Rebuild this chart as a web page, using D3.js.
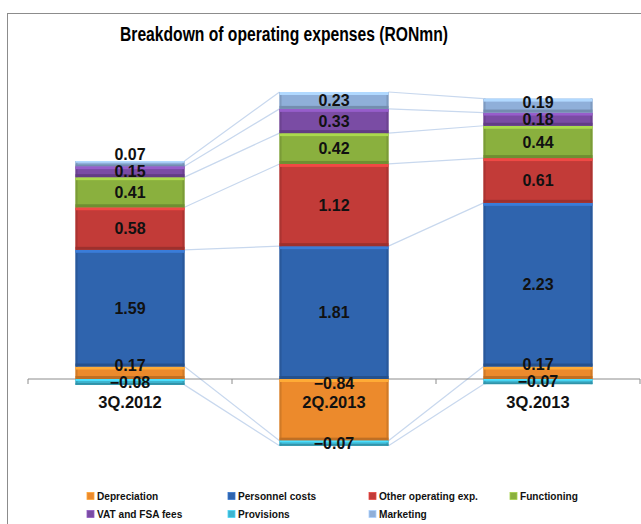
<!DOCTYPE html>
<html>
<head>
  <meta charset="utf-8">
  <title>Breakdown of operating expenses</title>
  <script src="https://d3js.org/d3.v7.min.js"></script>
  <style>
    body { margin: 0; background: #fff; }
    svg { display: block; }
  </style>
</head>
<body>
  <script>
  // data
  var categories = ["3Q.2012", "2Q.2013", "3Q.2013"];
  var seriesNames = ["Depreciation", "Personnel costs", "Other operating exp.", "Functioning",
                     "VAT and FSA fees", "Provisions", "Marketing"];
  var depreciation = [0.17, -0.84, 0.17];
  var personnel = [1.59, 1.81, 2.23];
  var otherOperating = [0.58, 1.12, 0.61];
  var functioning = [0.41, 0.42, 0.44];
  var vatFsa = [0.15, 0.33, 0.18];
  var provisions = [-0.08, -0.07, -0.07];
  var marketing = [0.07, 0.23, 0.19];

  var seriesValues = [depreciation, personnel, otherOperating, functioning, vatFsa, provisions, marketing];
  var colors = ["#ec8a2c", "#2f64ae", "#c23b38", "#8ab03e", "#7a4ca4", "#3db5d0", "#8fafd9"];

  var width = 641, height = 524;
  var font = "'Liberation Sans', Arial, Helvetica, sans-serif";

  var svg = d3.select("body").append("svg").attr("width", width).attr("height", height);

  // chart frame
  svg.append("rect")
    .attr("x", 7.5).attr("y", 13.5)
    .attr("width", 700).attr("height", 600)
    .attr("fill", "#fff").attr("stroke", "#8c8c8c");

  // title is a condensed face in the original, squeeze it
  svg.append("text")
    .attr("x", 120).attr("y", 41)
    .attr("textLength", 328).attr("lengthAdjust", "spacingAndGlyphs")
    .style("font-family", font)
    .style("font-weight", "bold")
    .style("font-size", "20px")
    .text("Breakdown of operating expenses (RONmn)");

  // scales
  var x = d3.scaleBand().domain(categories).range([28, 640]).paddingInner(0.466).paddingOuter(0.233);
  var y = d3.scaleLinear().domain([-1, 4]).range([452.4, 85.4]);

  // table for the stack
  var rows = categories.map(function(c, i) {
    var r = { cat: c };
    seriesNames.forEach(function(s, k) { r[s] = seriesValues[k][i]; });
    return r;
  });
  var stacked = d3.stack().keys(seriesNames).offset(d3.stackOffsetDiverging)(rows);

  function farEnd(d) { return d.data[d.key] >= 0 ? d[1] : d[0]; }
  stacked.forEach(function(s) { s.forEach(function(d) { d.key = s.key; }); });

  // series lines (behind the bars)
  var lines = svg.append("g");
  stacked.forEach(function(s) {
    for (var i = 0; i < s.length - 1; i++) {
      lines.append("line")
        .attr("x1", x(categories[i]) + x.bandwidth()).attr("y1", y(farEnd(s[i])))
        .attr("x2", x(categories[i + 1])).attr("y2", y(farEnd(s[i + 1])))
        .attr("stroke", "#c8d8ee").attr("stroke-width", 1.2);
    }
  });

  // axis line + ticks between categories
  svg.append("line")
    .attr("x1", x.range()[0]).attr("x2", x.range()[1])
    .attr("y1", y(0)).attr("y2", y(0))
    .attr("stroke", "#8c8c8c");
  d3.range(0, categories.length + 1).forEach(function(k) {
    var tx = x.range()[0] + k * x.step();
    svg.append("line").attr("x1", tx).attr("x2", tx)
      .attr("y1", y(0)).attr("y2", y(0) + 5).attr("stroke", "#8c8c8c");
  });

  // bars with bevel
  var bars = svg.append("g");
  stacked.forEach(function(s, k) {
    var col = d3.color(colors[k]);
    var g = bars.selectAll(null).data(s).enter().append("g");
    g.each(function(d) {
      var top = y(d[1]), h = y(d[0]) - y(d[1]);
      if (h <= 0) return;
      var bx = x(d.data.cat), bw = x.bandwidth();
      var sel = d3.select(this);
      var e = Math.min(3, h / 3);
      sel.append("rect").attr("x", bx).attr("y", top).attr("width", bw).attr("height", h).attr("fill", col);
      sel.append("rect").attr("x", bx).attr("y", top).attr("width", 2).attr("height", h).attr("fill", col.darker(0.35));
      sel.append("rect").attr("x", bx + bw - 2).attr("y", top).attr("width", 2).attr("height", h).attr("fill", col.darker(0.35));
      sel.append("rect").attr("x", bx).attr("y", top).attr("width", bw).attr("height", e).attr("fill", col.brighter(0.6));
      sel.append("rect").attr("x", bx).attr("y", top + h - e).attr("width", bw).attr("height", e).attr("fill", col.darker(0.6));
    });
  });

  // data labels: centered, depreciation at the inside base, then pushed apart
  categories.forEach(function(c, i) {
    var labs = stacked.map(function(s) {
      var d = s[i], v = d.data[s.key];
      var ly = (y(d[0]) + y(d[1])) / 2;
      if (s.key === "Depreciation") ly = v >= 0 ? y(0) - 8 : y(0) + 4;
      return { v: v, y: ly };
    });
    labs.sort(function(a, b) { return b.y - a.y; });
    for (var j = 1; j < labs.length; j++) labs[j].y = Math.min(labs[j].y, labs[j - 1].y - 17);
    labs.forEach(function(l) {
      svg.append("text")
        .attr("x", x(c) + x.bandwidth() / 2).attr("y", l.y)
        .attr("dy", "0.36em")
        .attr("text-anchor", "middle")
        .style("font-family", font).style("font-weight", "bold").style("font-size", "16px")
        .attr("fill", "#111")
        .text(d3.format(".2f")(l.v));
    });
  });

  // category labels
  var axis = svg.append("g")
    .attr("transform", "translate(0," + y(0) + ")")
    .call(d3.axisBottom(x).tickSize(0).tickPadding(17));
  axis.select(".domain").remove();
  axis.selectAll("text")
    .style("font-family", font).style("font-weight", "bold").style("font-size", "16.5px")
    .attr("fill", "#111");

  // legend
  var legend = svg.append("g")
    .style("font-family", font)
    .style("font-weight", "bold").style("font-size", "11.5px");
  seriesNames.forEach(function(name, k) {
    var lx = 87 + (k % 4) * 141, ly = 496 + Math.floor(k / 4) * 18;
    var col = d3.color(colors[k]);
    legend.append("rect").attr("x", lx).attr("y", ly - 3.5).attr("width", 7).attr("height", 7)
      .attr("fill", col).attr("stroke", col.brighter(0.5)).attr("stroke-width", 0.8);
    legend.append("text")
      .attr("transform", "translate(" + (lx + 10) + "," + ly + ") scale(0.88,1)")
      .attr("dy", "0.36em").attr("fill", "#111").text(name);
  });
  </script>
</body>
</html>
